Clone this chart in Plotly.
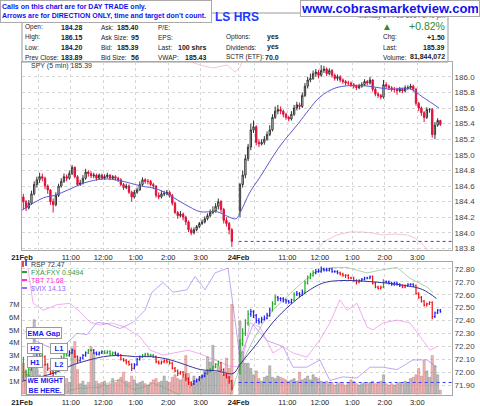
import plotly.graph_objects as go

FONT = "Liberation Sans, Arial, sans-serif"

# ---------------- data ----------------
tick_vals = [0, 6, 18, 30, 42, 54, 66, 80, 86, 98, 110, 122, 134, 146]
tick_text = ["<b>21Feb</b>", "", "11:00", "12:00", "1:00", "2:00", "3:00",
             "<b>24Feb</b>", "", "11:00", "12:00", "1:00", "2:00", "3:00"]
day1_bars = 78
day2_bars = 75
day2_start = 80

spy_d1_open = [184.46,184.40,184.32,184.38,184.50,184.62,184.68,184.72,184.70,184.60,
               184.55,184.40,184.36,184.48,184.60,184.66,184.72,184.70,184.76,184.84,
               184.72,184.62,184.64,184.70,184.78,184.76,184.73,184.74,184.70,184.74,
               184.70,184.72,184.74,184.70,184.72,184.70,184.68,184.62,184.58,184.60,
               184.52,184.46,184.52,184.55,184.62,184.68,184.66,184.66,184.62,184.60,
               184.48,184.46,184.50,184.50,184.52,184.48,184.38,184.26,184.22,184.24,
               184.20,184.14,184.04,184.00,184.04,184.08,184.12,184.14,184.18,184.22,
               184.26,184.28,184.34,184.40,184.30,184.16,184.12,184.04]
spy_d1_high = [184.50,184.42,184.42,184.54,184.66,184.72,184.77,184.76,184.72,184.62,
               184.56,184.44,184.52,184.63,184.70,184.76,184.75,184.80,184.87,184.85,
               184.74,184.68,184.74,184.82,184.80,184.79,184.77,184.76,184.76,184.76,
               184.75,184.77,184.75,184.74,184.74,184.72,184.70,184.64,184.63,184.62,
               184.54,184.55,184.58,184.66,184.71,184.70,184.69,184.68,184.64,184.61,
               184.52,184.54,184.54,184.55,184.54,184.50,184.40,184.28,184.28,184.26,
               184.22,184.16,184.07,184.07,184.10,184.14,184.17,184.21,184.25,184.30,
               184.34,184.38,184.44,184.42,184.32,184.20,184.14,184.06]
spy_d1_low = [184.30,184.28,184.30,184.36,184.48,184.58,184.64,184.66,184.56,184.50,
              184.36,184.26,184.34,184.46,184.58,184.64,184.66,184.68,184.74,184.70,
              184.60,184.60,184.62,184.68,184.72,184.70,184.70,184.67,184.68,184.68,
              184.68,184.70,184.68,184.68,184.67,184.65,184.60,184.55,184.56,184.50,
              184.40,184.44,184.50,184.54,184.60,184.63,184.62,184.60,184.56,184.45,
              184.43,184.44,184.47,184.48,184.45,184.35,184.24,184.18,184.20,184.16,
              184.10,184.01,183.97,183.98,184.02,184.06,184.10,184.12,184.16,184.20,
              184.24,184.26,184.30,184.26,184.12,184.08,183.98,183.82]
spy_d1_close = [184.40,184.32,184.38,184.50,184.62,184.68,184.72,184.70,184.60,184.55,
                184.40,184.36,184.48,184.60,184.66,184.72,184.70,184.76,184.84,184.72,
                184.62,184.64,184.70,184.78,184.76,184.73,184.74,184.70,184.74,184.70,
                184.72,184.74,184.70,184.72,184.70,184.68,184.62,184.58,184.60,184.52,
                184.46,184.52,184.55,184.62,184.68,184.66,184.66,184.62,184.60,184.48,
                184.46,184.50,184.50,184.52,184.48,184.38,184.26,184.22,184.24,184.20,
                184.14,184.04,184.00,184.04,184.08,184.12,184.14,184.18,184.22,184.26,
                184.28,184.34,184.40,184.30,184.16,184.12,184.04,183.89]

spy_d2_open = [184.28,184.62,184.74,184.95,185.10,185.32,185.36,185.16,185.14,185.16,
               185.20,185.26,185.32,185.48,185.56,185.58,185.56,185.52,185.48,185.46,
               185.52,185.60,185.64,185.62,185.76,185.88,185.96,185.98,186.04,186.06,
               186.02,186.08,186.10,186.04,186.08,186.02,185.98,186.00,185.96,185.94,
               185.92,185.92,185.90,185.88,185.86,185.88,185.90,185.94,185.92,185.96,
               185.84,185.78,185.76,185.74,185.90,185.88,185.86,185.84,185.84,185.82,
               185.84,185.82,185.86,185.86,185.88,185.84,185.66,185.60,185.54,185.48,
               185.58,185.58,185.26,185.38,185.44]
spy_d2_high = [184.64,184.80,185.00,185.14,185.40,185.44,185.38,185.20,185.20,185.24,
               185.30,185.38,185.52,185.62,185.64,185.62,185.58,185.54,185.50,185.56,
               185.64,185.68,185.67,185.80,185.92,186.00,186.04,186.08,186.10,186.09,
               186.15,186.14,186.12,186.11,186.10,186.04,186.03,186.02,185.98,185.96,
               185.95,185.94,185.92,185.90,185.91,185.93,185.97,185.96,186.00,185.97,
               185.86,185.80,185.78,185.96,185.93,185.90,185.88,185.87,185.86,185.87,
               185.86,185.89,185.89,185.91,185.90,185.86,185.68,185.62,185.56,185.61,
               185.60,185.60,185.42,185.47,185.45]
spy_d2_low = [184.20,184.58,184.70,184.92,185.06,185.28,185.12,185.10,185.12,185.13,
              185.18,185.24,185.30,185.46,185.52,185.52,185.48,185.45,185.43,185.44,
              185.50,185.57,185.58,185.60,185.74,185.85,185.93,185.96,186.00,185.98,
              186.00,186.05,186.01,186.02,185.99,185.95,185.95,185.93,185.91,185.89,
              185.89,185.87,185.85,185.83,185.84,185.86,185.88,185.89,185.90,185.81,
              185.75,185.73,185.71,185.72,185.85,185.83,185.81,185.80,185.77,185.80,
              185.79,185.80,185.83,185.84,185.81,185.63,185.56,185.50,185.42,185.46,
              185.54,185.22,185.20,185.36,185.37]
spy_d2_close = [184.62,184.74,184.95,185.10,185.32,185.36,185.16,185.14,185.16,185.20,
                185.26,185.32,185.48,185.56,185.58,185.56,185.52,185.48,185.46,185.52,
                185.60,185.64,185.62,185.76,185.88,185.96,185.98,186.04,186.06,186.02,
                186.08,186.10,186.04,186.08,186.02,185.98,186.00,185.96,185.94,185.92,
                185.92,185.90,185.88,185.86,185.88,185.90,185.94,185.92,185.96,185.84,
                185.78,185.76,185.74,185.90,185.88,185.86,185.84,185.84,185.82,185.84,
                185.82,185.86,185.86,185.88,185.84,185.66,185.60,185.54,185.48,185.58,
                185.58,185.26,185.38,185.44,185.39]

spy_ema_x = [0, 8, 12, 17, 23, 30, 36, 44, 50, 56, 62, 66, 72, 76, 79,
             81, 84, 88, 95, 102, 106, 110, 116, 124, 130, 136, 143, 148, 154]
spy_ema = [184.29,184.45,184.48,184.55,184.64,184.69,184.67,184.60,184.56,184.45,184.33,184.27,184.27,184.21,184.18,
           184.29,184.51,184.72,185.10,185.40,185.58,185.74,185.86,185.89,185.87,185.84,185.85,185.74,185.60]
spy_prev_close = 183.89

overlay_x = [60.9, 65.7, 70.5, 75.7, 78.7, 80.5, 81.6, None,
             108.2, 111.9, 116.3, 121.1, 125.5, 129.6, 133.3, 137.0, 142.2, 145.1, 147.7, 150.7]
overlay_val = [1.011, 0.984, 0.968, 0.984, 0.947, 0.973, 1.011, None,
               -0.01, 0.048, 0.080, 0.096, 0.096, 0.090, 0.080, 0.085, 0.080, 0.064, 0.032, -0.011]

rsp_d1_open = [71.96,72.00,71.98,72.02,72.06,72.10,72.12,72.13,72.12,72.06,
               72.03,72.00,71.99,72.04,72.08,72.11,72.14,72.13,72.15,72.17,
               72.12,72.09,72.11,72.13,72.15,72.17,72.17,72.15,72.14,72.15,
               72.16,72.15,72.16,72.14,72.15,72.14,72.13,72.10,72.09,72.08,
               72.06,72.03,72.06,72.10,72.12,72.13,72.14,72.13,72.13,72.12,
               72.08,72.07,72.08,72.09,72.08,72.07,72.03,72.01,71.99,72.00,
               71.98,71.95,71.92,71.91,71.93,71.94,71.96,71.97,71.99,72.01,
               72.02,72.04,72.06,72.07,72.02,71.98,71.96,71.93]
rsp_d1_high = [72.12,72.02,72.04,72.08,72.12,72.14,72.15,72.14,72.13,72.07,
               72.04,72.01,72.05,72.09,72.13,72.15,72.15,72.17,72.18,72.17,
               72.13,72.12,72.14,72.16,72.18,72.18,72.18,72.16,72.16,72.17,
               72.17,72.17,72.17,72.16,72.16,72.15,72.14,72.11,72.10,72.09,
               72.07,72.07,72.11,72.13,72.14,72.15,72.15,72.14,72.14,72.13,
               72.09,72.09,72.10,72.10,72.09,72.08,72.04,72.02,72.01,72.01,
               71.99,71.96,71.93,71.94,71.95,71.97,71.98,72.00,72.02,72.03,
               72.05,72.07,72.09,72.08,72.03,71.99,71.97,71.94]
rsp_d1_low = [71.94,71.96,71.97,72.01,72.05,72.09,72.11,72.10,72.05,72.01,
              71.98,71.96,71.98,72.03,72.07,72.10,72.12,72.12,72.14,72.11,
              72.07,72.08,72.10,72.12,72.14,72.16,72.14,72.13,72.13,72.14,
              72.14,72.14,72.13,72.13,72.13,72.12,72.09,72.08,72.06,72.05,
              72.01,72.02,72.05,72.09,72.11,72.12,72.12,72.12,72.11,72.07,
              72.06,72.06,72.07,72.07,72.06,72.02,72.00,71.97,71.98,71.96,
              71.93,71.90,71.89,71.90,71.92,71.93,71.95,71.96,71.98,72.00,
              72.01,72.03,72.05,72.01,71.97,71.95,71.91,71.86]
rsp_d1_close = [72.00,71.98,72.02,72.06,72.10,72.12,72.13,72.12,72.06,72.03,
                72.00,71.99,72.04,72.08,72.11,72.14,72.13,72.15,72.17,72.12,
                72.09,72.11,72.13,72.15,72.17,72.17,72.15,72.14,72.15,72.16,
                72.15,72.16,72.14,72.15,72.14,72.13,72.10,72.09,72.08,72.06,
                72.03,72.06,72.10,72.12,72.13,72.14,72.13,72.13,72.12,72.08,
                72.07,72.08,72.09,72.08,72.07,72.03,72.01,71.99,72.00,71.98,
                71.95,71.92,71.91,71.93,71.94,71.96,71.97,71.99,72.01,72.02,
                72.04,72.06,72.07,72.02,71.98,71.96,71.93,71.88]

rsp_d2_open = [72.02,72.22,72.30,72.38,72.45,72.47,72.44,72.40,72.39,72.41,
               72.42,72.44,72.48,72.53,72.58,72.57,72.57,72.56,72.55,72.54,
               72.56,72.60,72.61,72.60,72.62,72.69,72.73,72.75,72.77,72.78,
               72.78,72.80,72.79,72.79,72.80,72.78,72.78,72.77,72.76,72.75,
               72.75,72.73,72.73,72.71,72.70,72.71,72.72,72.73,72.73,72.74,
               72.69,72.66,72.65,72.66,72.70,72.70,72.69,72.68,72.69,72.68,
               72.67,72.66,72.67,72.68,72.68,72.67,72.61,72.58,72.55,72.52,
               72.53,72.54,72.43,72.46,72.48]
rsp_d2_high = [72.26,72.34,72.41,72.48,72.49,72.48,72.45,72.42,72.43,72.44,
               72.46,72.50,72.55,72.60,72.59,72.58,72.58,72.57,72.56,72.57,
               72.62,72.63,72.62,72.64,72.71,72.75,72.77,72.79,72.80,72.80,
               72.82,72.81,72.81,72.81,72.81,72.79,72.79,72.78,72.77,72.76,
               72.76,72.74,72.74,72.72,72.72,72.73,72.74,72.74,72.75,72.75,
               72.70,72.67,72.67,72.72,72.71,72.71,72.70,72.70,72.70,72.69,
               72.68,72.68,72.69,72.69,72.69,72.68,72.62,72.59,72.56,72.54,
               72.55,72.55,72.47,72.49,72.49]
rsp_d2_low = [71.98,72.20,72.28,72.36,72.43,72.42,72.38,72.37,72.38,72.40,
              72.41,72.43,72.47,72.52,72.55,72.55,72.54,72.53,72.53,72.53,
              72.55,72.59,72.58,72.59,72.61,72.68,72.72,72.74,72.76,72.77,
              72.77,72.78,72.78,72.78,72.77,72.77,72.76,72.75,72.74,72.73,
              72.72,72.72,72.70,72.68,72.69,72.70,72.71,72.72,72.72,72.68,
              72.65,72.64,72.64,72.65,72.69,72.68,72.67,72.67,72.67,72.66,
              72.65,72.65,72.66,72.67,72.66,72.60,72.57,72.54,72.51,72.51,
              72.52,72.41,72.42,72.45,72.46]
rsp_d2_close = [72.22,72.30,72.38,72.45,72.47,72.44,72.40,72.39,72.41,72.42,
                72.44,72.48,72.53,72.58,72.57,72.57,72.56,72.55,72.54,72.56,
                72.60,72.61,72.60,72.62,72.69,72.73,72.75,72.77,72.78,72.78,
                72.80,72.79,72.79,72.80,72.78,72.78,72.77,72.76,72.75,72.75,
                72.73,72.73,72.71,72.70,72.71,72.72,72.73,72.73,72.74,72.69,
                72.66,72.65,72.66,72.70,72.70,72.69,72.68,72.69,72.68,72.67,
                72.66,72.67,72.68,72.68,72.67,72.61,72.58,72.55,72.52,72.53,
                72.54,72.43,72.46,72.48,72.47]

# bar colour code runs (G = green, B = blue, R = red)
rsp_color_runs = [("G",4),("B",2),("G",2),("R",4),("G",5),("B",2),("R",2),("B",3),("G",2),("B",4),
                  ("G",4),("B",2),("R",5),("B",3),("G",5),("R",14),("B",5),("G",5),("R",5),
                  ("G",4),("B",8),("G",2),("B",6),("G",1),("B",3),("G",4),("B",9),("R",8),("B",4),
                  ("R",4),("G",1),("B",6),("R",2),("B",3),("R",7),("B",3)]

rsp_ema_x = [0, 8, 14, 18, 24, 30, 36, 42, 48, 54, 60, 66, 72, 78,
             80.5, 86.7, 92.8, 99, 105, 111, 117.4, 129.7, 142, 148, 153.1]
rsp_ema = [71.93,71.97,72.01,72.05,72.09,72.12,72.13,72.12,72.12,72.10,72.06,72.02,72.01,71.99,
           72.06,72.22,72.39,72.52,72.62,72.69,72.71,72.70,72.67,72.64,72.57]
rsp_ref_line = 71.92

vol_d1 = [2.4,1.8,1.5,2.0,5.8,2.0,1.5,1.2,2.3,1.0,
          1.2,0.9,0.8,0.9,0.7,0.8,1.2,0.9,3.6,4.1,
          1.9,0.8,1.0,0.7,0.9,3.7,3.2,1.0,0.8,0.9,
          1.0,0.7,0.8,1.2,0.9,1.1,1.3,1.7,1.0,0.9,
          1.4,1.1,0.8,0.9,1.0,0.8,0.7,0.9,1.1,1.2,
          0.9,1.0,1.4,1.0,0.9,1.3,1.5,1.2,1.1,1.3,
          3.0,1.6,0.8,1.4,1.0,1.2,1.5,1.8,2.9,2.5,
          3.8,1.7,2.2,1.8,1.5,2.8,2.0,7.0]
vol_d2 = [5.7,3.3,2.4,2.4,2.0,1.5,1.8,1.2,1.0,1.3,
          1.4,2.2,1.3,1.2,1.4,1.3,1.2,1.1,1.0,1.1,
          1.2,1.0,1.7,1.1,1.2,1.4,1.1,1.5,1.3,1.2,
          1.0,0.9,1.0,0.8,0.9,0.7,0.8,0.9,0.8,0.7,
          0.9,1.1,1.0,0.8,0.7,0.8,0.9,0.8,0.9,1.0,
          0.8,0.9,1.0,1.5,0.8,0.7,0.8,0.7,0.8,0.9,
          0.8,1.0,0.9,1.2,1.3,1.5,2.0,1.4,2.6,1.8,
          1.3,3.0,2.2,1.5,0.3]
vol_ticks = [1, 2, 3, 4, 5, 6, 7]
vol_labels = ["1M", "2M", "3M", "4M", "5M", "6M", "7M"]

vix_x = [0.4,4.8,8.5,12.9,16.6,20.3,24.0,27.7,31.4,36.2,41.0,45.4,48.0,52.1,55.8,60.9,63.9,67.6,71.3,76.1,
         80.5,85.3,90.5,96.4,100.1,105.2,110.0,113.7,118.5,123.7,128.5,133.3,138.5,144.4,149.6,153.2]
vix_val = [14.44,14.35,14.31,14.27,14.33,14.41,14.40,14.50,14.49,14.45,14.50,14.60,14.75,14.83,14.75,14.77,14.88,14.77,14.91,14.95,
           14.21,14.48,14.35,14.30,14.13,14.13,14.19,14.02,14.05,14.04,14.13,14.13,14.11,14.19,14.19,14.13]
tbt_x = [2.2,4.1,7.8,12.9,17.7,21.4,25.1,28.8,33.2,38.0,43.6,47.3,52.1,56.5,61.3,65.7,71.3,76.8,
         80.9,84.2,87.9,92.7,96.4,100.1,105.2,110.0,113.7,117.4,120.0,123.7,127.4,129.6,133.3,138.5,143.3,147.0,150.7,153.2]
tbt_val = [72.81,72.31,72.21,72.29,72.31,72.19,72.04,72.00,72.03,71.97,71.83,71.64,71.57,71.60,71.64,71.59,71.50,71.41,
           71.40,72.03,71.97,71.60,71.69,71.60,71.54,71.79,72.03,72.36,72.21,72.31,71.97,71.93,72.03,72.07,72.03,71.83,71.64,71.69]
fxa_x = [16.6,20.3,28.8,32.5,36.2,41.0,44.7,48.4,52.1,55.8,59.5,65.7,76.8,
         80.5,85.3,89.0,92.7,96.4,101.6,107.5,114.8,120.0,127.4,133.3,138.5,143.3,149.6,151.8]
fxa_val = [0.9403,0.9406,0.9407,0.9412,0.9414,0.9405,0.9407,0.9411,0.9407,0.9403,0.9398,0.9396,0.9399,
           0.9426,0.9450,0.9466,0.9478,0.9487,0.9499,0.9512,0.9517,0.9517,0.9512,0.9515,0.9517,0.9507,0.9499,0.9494]

for arr in (spy_d1_open, spy_d1_high, spy_d1_low, spy_d1_close, rsp_d1_open, rsp_d1_high,
            rsp_d1_low, rsp_d1_close, vol_d1):
    assert len(arr) == day1_bars, len(arr)
for arr in (spy_d2_open, spy_d2_high, spy_d2_low, spy_d2_close, rsp_d2_open, rsp_d2_high,
            rsp_d2_low, rsp_d2_close, vol_d2):
    assert len(arr) == day2_bars, len(arr)

# ---------------- build ----------------
W, H = 480, 406
ML, MR, MT, MB = 22, 28, 62, 11
PW, PH = W - ML - MR, H - MT - MB


def px(x):
    return (x - ML) / PW


def py(y):
    return (H - MB - y) / PH


slots = [i + 0.5 for i in range(day1_bars)] + [day2_start + j + 0.5 for j in range(day2_bars)]
spy_o, spy_h = spy_d1_open + spy_d2_open, spy_d1_high + spy_d2_high
spy_l, spy_c = spy_d1_low + spy_d2_low, spy_d1_close + spy_d2_close
rsp_o, rsp_h = rsp_d1_open + rsp_d2_open, rsp_d1_high + rsp_d2_high
rsp_l, rsp_c = rsp_d1_low + rsp_d2_low, rsp_d1_close + rsp_d2_close
vols = vol_d1 + vol_d2
codes = [c for c, n in rsp_color_runs for _ in range(n)]
assert len(codes) == len(slots), len(codes)

fig = go.Figure()

# volume (base of lower panel)
down = [c < o for o, c in zip(spy_o, spy_c)]
fig.add_trace(go.Bar(x=slots, y=vols, width=0.8, xaxis="x2", yaxis="y2",
                     marker=dict(color=["rgba(226,140,140,0.6)" if d else "rgba(150,150,150,0.6)" for d in down],
                                 line=dict(color=["rgba(200,100,100,0.8)" if d else "rgba(120,120,120,0.8)" for d in down],
                                           width=0.5)),
                     hoverinfo="skip"))

fig.add_trace(go.Scatter(x=vix_x, y=vix_val, mode="lines", xaxis="x2", yaxis="y3",
                         line=dict(color="rgba(150,110,230,0.6)", width=1)))
fig.add_trace(go.Scatter(x=tbt_x, y=tbt_val, mode="lines", xaxis="x2", yaxis="y4",
                         line=dict(color="rgba(235,120,230,0.6)", width=1)))
fig.add_trace(go.Scatter(x=fxa_x, y=fxa_val, mode="lines", xaxis="x2", yaxis="y5",
                         line=dict(color="rgba(110,170,110,0.55)", width=1)))

fig.add_trace(go.Scatter(x=rsp_ema_x, y=rsp_ema, mode="lines", xaxis="x2", yaxis="y6",
                         line=dict(color="#36369a", width=1, shape="spline")))
col_map = {"G": "#1faa1f", "B": "#2020ee", "R": "#ee1111"}
for code, col in col_map.items():
    idx = [k for k, cc in enumerate(codes) if cc == code]
    fig.add_trace(go.Ohlc(x=[slots[k] for k in idx], open=[rsp_o[k] for k in idx],
                          high=[rsp_h[k] for k in idx], low=[rsp_l[k] for k in idx],
                          close=[rsp_c[k] for k in idx], xaxis="x2", yaxis="y6", tickwidth=0.35,
                          increasing=dict(line=dict(color=col, width=1.2)),
                          decreasing=dict(line=dict(color=col, width=1.2)), hoverinfo="skip"))

# upper panel
fig.add_trace(go.Candlestick(x=slots, open=spy_o, high=spy_h, low=spy_l, close=spy_c,
                             xaxis="x", yaxis="y", whiskerwidth=0,
                             increasing=dict(line=dict(color="#333333", width=1), fillcolor="white"),
                             decreasing=dict(line=dict(color="#e0103a", width=1), fillcolor="#e0103a"),
                             hoverinfo="skip"))
fig.add_trace(go.Scatter(x=spy_ema_x, y=spy_ema, mode="lines", xaxis="x", yaxis="y",
                         line=dict(color="#5a5ad0", width=1, shape="spline")))
fig.add_trace(go.Scatter(x=overlay_x, y=overlay_val, mode="lines", xaxis="x", yaxis="y7",
                         line=dict(color="rgba(235,150,190,0.55)", width=1), connectgaps=False))

xcommon = dict(range=[0, 158.8], tickvals=tick_vals, ticktext=tick_text, showgrid=True,
               gridcolor="#d6d6d6", griddash="dot", gridwidth=1, showline=True, linecolor="#a8a8a8",
               mirror=True, ticks="", zeroline=False, tickfont=dict(size=7.5, color="#222"),
               rangeslider=dict(visible=False), fixedrange=True, automargin=False)
ycommon = dict(showgrid=True, gridcolor="#d6d6d6", griddash="dot", gridwidth=1, showline=True,
               linecolor="#a8a8a8", mirror=True, zeroline=False, ticks="", automargin=False,
               tickfont=dict(size=8, color="#444"))

annotations = []


def T(text, x, y, size=6.5, color="#222", xanchor="left", bold=False, **kw):
    if bold:
        text = "<b>" + text + "</b>"
    d = dict(text=text, x=px(x), y=py(y), xref="paper", yref="paper", xanchor=xanchor,
             yanchor="middle", showarrow=False, font=dict(size=size, color=color, family=FONT))
    d.update(kw)
    annotations.append(d)


rows = [27, 37, 47, 57]
for lab, val, r in zip(["Open:", "High:", "Low:", "Prev Close:"], ["184.28", "186.15", "184.20", "183.89"], rows):
    T(lab, 23, r)
    T(val, 85, r, bold=True, xanchor="right", size=7)
for lab, val, r in zip(["Ask:", "Ask Size:", "Bid:", "Bid Size:"], ["185.40", "95", "185.39", "56"], rows):
    T(lab, 99, r)
    T(val, 141, r, bold=True, xanchor="right", size=7)
for lab, val, r in zip(["P/E:", "EPS:", "Last:", "VWAP:"], ["", "", "100 shrs", "185.43"], rows):
    T(lab, 156, r)
    if val:
        T(val, 209, r, bold=True, xanchor="right", size=7)
for lab, val, r in zip(["Options:", "Dividends:", "SCTR (ETF):"], ["yes", "yes", "70.0"], rows[1:]):
    T(lab, 224, r)
    T(val, 281, r, bold=True, xanchor="right", size=7)
for lab, val, r in zip(["Chg:", "Last:", "Volume:"], ["+1.50", "185.39", "81,844,072"], rows[1:]):
    T(lab, 381, r)
    T(val, 447, r, bold=True, xanchor="right", size=7)
T("+0.82%", 447, 26, size=10.5, color="#338833", xanchor="right")
T("▲", 387, 26, size=10, color="#338833", xanchor="center")
T("Monday 24-Feb-2014 3:40 pm", 447, 16, size=6.5, color="#555", xanchor="right")
T("LS HRS", 237, 17, size=12, color="#1f3aff", xanchor="center", bold=True)

# overlay boxes on top
annotations.append(dict(text="<b>www.cobrasmarketview.com</b>", x=px(480), y=py(0), xref="paper", yref="paper",
                        xanchor="right", yanchor="top", showarrow=False, bgcolor="white",
                        bordercolor="#aaaaaa", borderwidth=1, borderpad=1, width=176, height=13,
                        font=dict(size=13, color="#1212ee", family=FONT)))
annotations.append(dict(text="<b>Calls on this chart are for DAY TRADE only.<br>Arrows are for DIRECTION ONLY, time and target don't count.</b>",
                        x=px(0), y=py(0), xref="paper", yref="paper", xanchor="left", yanchor="top",
                        showarrow=False, bgcolor="white", bordercolor="#aaaaaa", borderwidth=1,
                        borderpad=1, width=208, height=19, align="left",
                        font=dict(size=7, color="#1212ee", family=FONT)))

T("SPY (5 min) 185.39", 29, 66, size=7, color="#333")
T("RSP 72.47", 29, 264, size=7, color="#333")
T("FXA:FXY 0.9494", 29, 272, size=7, color="#339933")
T("TBT 71.68", 29, 280, size=7, color="#ff33cc")
T("$VIX 14.13", 29, 288, size=7, color="#9966ff")


def box(text, cx, cy, w, h, size=7.5):
    annotations.append(dict(text="<b>" + text + "</b>", x=px(cx), y=py(cy), xref="paper", yref="paper",
                            xanchor="center", yanchor="middle", showarrow=False, bgcolor="white",
                            bordercolor="#999999", borderwidth=1, borderpad=1, width=w, height=h,
                            font=dict(size=size, color="#1a1aee", family=FONT)))


box("EMA Gap", 44, 333, 32, 8)
box("H2", 35, 348.5, 12, 7)
box("L1", 59, 348.5, 14, 7)
box("H1", 35, 362, 12, 8)
box("L2", 59, 364, 14, 9)
box("WE MIGHT<br>BE HERE.", 45.5, 385, 35, 15, size=7)

shapes = [
    dict(type="rect", xref="paper", yref="paper", x0=px(22), x1=px(448), y0=py(62), y1=py(13),
         line=dict(color="#999999", width=1), layer="below"),
    dict(type="line", xref="x", yref="y", x0=day2_start, x1=158.8, y0=spy_prev_close, y1=spy_prev_close,
         line=dict(color="#3a3aff", width=1, dash="dot")),
    dict(type="line", xref="x2", yref="y6", x0=day2_start, x1=158.8, y0=rsp_ref_line, y1=rsp_ref_line,
         line=dict(color="#3a3aff", width=1, dash="dot")),
    dict(type="line", xref="paper", yref="paper", x0=px(23), x1=px(23), y0=py(261), y1=py(267),
         line=dict(color="#ee1111", width=1.5)),
    dict(type="line", xref="paper", yref="paper", x0=px(26), x1=px(26), y0=py(260), y1=py(266),
         line=dict(color="#2020ee", width=1.5)),
    dict(type="line", xref="paper", yref="paper", x0=px(22), x1=px(27), y0=py(272), y1=py(272),
         line=dict(color="#339933", width=2)),
    dict(type="line", xref="paper", yref="paper", x0=px(22), x1=px(27), y0=py(280), y1=py(280),
         line=dict(color="#ff33cc", width=2)),
    dict(type="line", xref="paper", yref="paper", x0=px(22), x1=px(27), y0=py(288), y1=py(288),
         line=dict(color="#9966ff", width=2)),
]

fig.update_layout(
    width=W, height=H, margin=dict(l=ML, r=MR, t=MT, b=MB, autoexpand=False),
    paper_bgcolor="white", plot_bgcolor="white", showlegend=False,
    font=dict(family=FONT, size=8, color="#333"),
    xaxis=dict(**xcommon, domain=[0, 1], anchor="y"),
    xaxis2=dict(**xcommon, domain=[0, 1], anchor="y2", matches="x"),
    yaxis=dict(**ycommon, domain=[py(250), 1], range=[183.78, 186.19], side="right", anchor="x",
               tick0=183.8, dtick=0.2, tickformat=".1f"),
    yaxis2=dict(domain=[0, py(262)], range=[-0.08, 10.31], side="left", anchor="x2",
                tickvals=vol_ticks, ticktext=vol_labels, showgrid=False, showline=True,
                linecolor="#a8a8a8", mirror=True, zeroline=False, ticks="", automargin=False,
                tickfont=dict(size=7.5, color="#333")),
    yaxis3=dict(overlaying="y2", anchor="x2", visible=False, range=[13.9, 15.0]),
    yaxis4=dict(overlaying="y2", anchor="x2", visible=False, range=[71.0, 72.9]),
    yaxis5=dict(overlaying="y2", anchor="x2", visible=False, range=[0.9400, 0.9522]),
    yaxis6=dict(**ycommon, overlaying="y2", anchor="x2", side="right", range=[71.823, 72.854],
                tick0=71.9, dtick=0.1, tickformat=".2f"),
    yaxis7=dict(overlaying="y", anchor="x", visible=False, range=[0, 1]),
    annotations=annotations, shapes=shapes,
)

fig.write_html("out.html")
